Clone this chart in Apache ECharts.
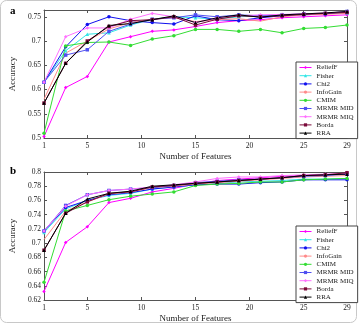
<!DOCTYPE html>
<html>
<head>
<meta charset="utf-8">
<script src="https://cdn.jsdelivr.net/npm/echarts@6/dist/echarts.min.js"></script>
<style>
  html, body { margin: 0; padding: 0; background: #fff; }
  #container { width: 362px; height: 324px; }
</style>
</head>
<body>
<div id="container"></div>
<script>
let chart = echarts.init(document.getElementById('container'));

// number of features on x axis
var features = [1, 3, 5, 7, 9, 11, 13, 15, 17, 19, 21, 23, 25, 27, 29];
var methods = ['ReliefF', 'Fisher', 'Chi2', 'InfoGain', 'CMIM', 'MRMR MID', 'MRMR MIQ', 'Borda', 'RRA'];
var xTicks = [1, 5, 10, 15, 20, 25, 29];
var yTicksA = [0.5, 0.55, 0.6, 0.65, 0.7, 0.75];
var yTicksB = [0.62, 0.64, 0.66, 0.68, 0.7, 0.72, 0.74, 0.76, 0.78, 0.8];

// panel a
var reliefA   = [0.503, 0.604, 0.627, 0.698, 0.709, 0.720, 0.723, 0.730, 0.738, 0.742, 0.744, 0.748, 0.750, 0.752, 0.754];
var fisherA   = [0.615, 0.680, 0.714, 0.717, 0.733, 0.745, 0.750, 0.748, 0.745, 0.750, 0.752, 0.754, 0.755, 0.757, 0.758];
var chi2A     = [0.615, 0.688, 0.734, 0.750, 0.742, 0.738, 0.735, 0.752, 0.744, 0.742, 0.748, 0.752, 0.754, 0.756, 0.760];
var infoGainA = [0.580, 0.675, 0.700, 0.725, 0.738, 0.745, 0.748, 0.740, 0.744, 0.746, 0.741, 0.750, 0.754, 0.755, 0.757];
var cmimA     = [0.510, 0.690, 0.697, 0.698, 0.691, 0.704, 0.711, 0.724, 0.724, 0.720, 0.724, 0.717, 0.726, 0.728, 0.733];
var midA      = [0.615, 0.671, 0.682, 0.720, 0.735, 0.745, 0.748, 0.754, 0.750, 0.754, 0.752, 0.754, 0.756, 0.757, 0.761];
var miqA      = [0.615, 0.709, 0.727, 0.727, 0.745, 0.757, 0.750, 0.738, 0.748, 0.752, 0.754, 0.755, 0.756, 0.758, 0.760];
var bordaA    = [0.572, 0.654, 0.700, 0.730, 0.742, 0.744, 0.750, 0.733, 0.745, 0.752, 0.750, 0.752, 0.755, 0.757, 0.759];
var rraA      = [0.572, 0.654, 0.698, 0.732, 0.736, 0.744, 0.752, 0.738, 0.748, 0.754, 0.749, 0.754, 0.756, 0.758, 0.761];

// panel b
var reliefB   = [0.632, 0.701, 0.723, 0.757, 0.763, 0.772, 0.777, 0.783, 0.788, 0.790, 0.792, 0.794, 0.795, 0.796, 0.797];
var fisherB   = [0.715, 0.748, 0.760, 0.767, 0.770, 0.776, 0.779, 0.782, 0.784, 0.786, 0.787, 0.788, 0.790, 0.790, 0.791];
var chi2B     = [0.717, 0.750, 0.760, 0.768, 0.771, 0.776, 0.779, 0.782, 0.783, 0.783, 0.785, 0.786, 0.789, 0.789, 0.789];
var infoGainB = [0.705, 0.745, 0.758, 0.769, 0.772, 0.778, 0.780, 0.783, 0.785, 0.787, 0.789, 0.791, 0.793, 0.794, 0.795];
var cmimB     = [0.645, 0.745, 0.753, 0.761, 0.766, 0.769, 0.772, 0.781, 0.783, 0.784, 0.786, 0.786, 0.789, 0.790, 0.791];
var midB      = [0.717, 0.753, 0.768, 0.774, 0.776, 0.778, 0.781, 0.785, 0.787, 0.789, 0.790, 0.792, 0.794, 0.795, 0.797];
var miqB      = [0.717, 0.752, 0.768, 0.774, 0.776, 0.779, 0.782, 0.786, 0.791, 0.793, 0.793, 0.795, 0.796, 0.797, 0.798];
var bordaB    = [0.690, 0.742, 0.758, 0.770, 0.772, 0.779, 0.781, 0.784, 0.786, 0.788, 0.790, 0.792, 0.795, 0.796, 0.799];
var rraB      = [0.690, 0.742, 0.762, 0.770, 0.773, 0.780, 0.782, 0.784, 0.786, 0.788, 0.790, 0.792, 0.795, 0.796, 0.797];

var colors  = ['#ff00ff', '#33e6e6', '#1010ee', '#ff8a8a', '#33dd33', '#5050f0', '#ff70ff', '#7a0a3a', '#000000'];
var symbols = ['diamond', 'triangle', 'circle', 'none', 'circle', 'rect', 'diamond', 'rect', 'triangle'];

var font = 'Liberation Serif';

function makeAxes(gridIndex, ymin, ymax, yTicks, yName) {
    var xs = [{
        type: 'value', gridIndex: gridIndex, min: 1, max: 29,
        name: 'Number of Features', nameLocation: 'middle', nameGap: 14,
        nameTextStyle: {fontFamily: font, fontSize: 9, color: '#222'},
        axisLine: {lineStyle: {color: '#555', width: 1}},
        axisTick: {inside: true, length: 3, customValues: xTicks, lineStyle: {color: '#555'}},
        axisLabel: {customValues: xTicks, fontFamily: font, fontSize: 7.5, color: '#222', margin: 4},
        splitLine: {show: false}
    }, {
        type: 'value', gridIndex: gridIndex, min: 1, max: 29, position: 'top',
        axisLine: {lineStyle: {color: '#555', width: 1}},
        axisTick: {inside: true, length: 3, customValues: xTicks, lineStyle: {color: '#555'}},
        axisLabel: {show: false},
        splitLine: {show: false}
    }];
    var ys = [{
        type: 'value', gridIndex: gridIndex, min: ymin, max: ymax,
        name: yName, nameLocation: 'middle', nameGap: 22,
        nameTextStyle: {fontFamily: font, fontSize: 9, color: '#222'},
        axisLine: {show: true, lineStyle: {color: '#555', width: 1}},
        axisTick: {show: true, inside: true, length: 3, customValues: yTicks, lineStyle: {color: '#555'}},
        axisLabel: {customValues: yTicks, fontFamily: font, fontSize: 7.5, color: '#222', margin: 3,
            formatter: function (v) { return String(parseFloat(v.toFixed(3))); }},
        splitLine: {show: false}
    }, {
        type: 'value', gridIndex: gridIndex, min: ymin, max: ymax, position: 'right',
        axisLine: {show: true, lineStyle: {color: '#555', width: 1}},
        axisTick: {show: true, inside: true, length: 3, customValues: yTicks, lineStyle: {color: '#555'}},
        axisLabel: {show: false},
        splitLine: {show: false}
    }];
    return {xs: xs, ys: ys};
}

var axesA = makeAxes(0, 0.5, 0.764, yTicksA, 'Accuracy');
var axesB = makeAxes(1, 0.62, 0.8, yTicksB, 'Accuracy');

var dataA = [reliefA, fisherA, chi2A, infoGainA, cmimA, midA, miqA, bordaA, rraA];
var dataB = [reliefB, fisherB, chi2B, infoGainB, cmimB, midB, miqB, bordaB, rraB];

var series = [];
function addSeries(list, xIdx, yIdx) {
    for (var i = 0; i < methods.length; i++) {
        var pts = [];
        for (var j = 0; j < features.length; j++) {
            pts.push([features[j], list[i][j]]);
        }
        series.push({
            type: 'line', name: methods[i], data: pts,
            xAxisIndex: xIdx, yAxisIndex: yIdx,
            symbol: symbols[i], symbolSize: 3.5, showSymbol: symbols[i] != 'none',
            lineStyle: {width: 1, color: colors[i]},
            itemStyle: {color: colors[i]},
            animation: false, z: 3
        });
    }
}
addSeries(dataA, 0, 0);
addSeries(dataB, 2, 2);

function legendFor(top) {
    return {
        data: methods, orient: 'vertical', left: 296, top: top,
        itemGap: 1.2, itemWidth: 12, itemHeight: 4,
        padding: [2, 4, 2, 3],
        borderColor: '#444', borderWidth: 1, backgroundColor: '#fff',
        lineStyle: {width: 1},
        textStyle: {fontFamily: font, fontSize: 7, lineHeight: 7, color: '#222'},
        selectedMode: false
    };
}

var option = {
    backgroundColor: '#fff',
    animation: false,
    grid: [
        {left: 35, top: 10, width: 312, height: 128},
        {left: 35, top: 172, width: 312, height: 130}
    ],
    xAxis: axesA.xs.concat(axesB.xs),
    yAxis: axesA.ys.concat(axesB.ys),
    legend: [legendFor(62), legendFor(226)],
    series: series,
    graphic: [
        {type: 'rect', shape: {x: 0.5, y: 0.5, width: 356, height: 322, r: 6},
         style: {fill: 'none', stroke: '#c8c8c8', lineWidth: 1}, silent: true},
        {type: 'text', left: 10, top: 6, style: {text: 'a', font: 'bold 11px "Liberation Serif"', fill: '#000'}},
        {type: 'text', left: 10, top: 166, style: {text: 'b', font: 'bold 11px "Liberation Serif"', fill: '#000'}}
    ]
};

chart.setOption(option);
</script>
</body>
</html>
